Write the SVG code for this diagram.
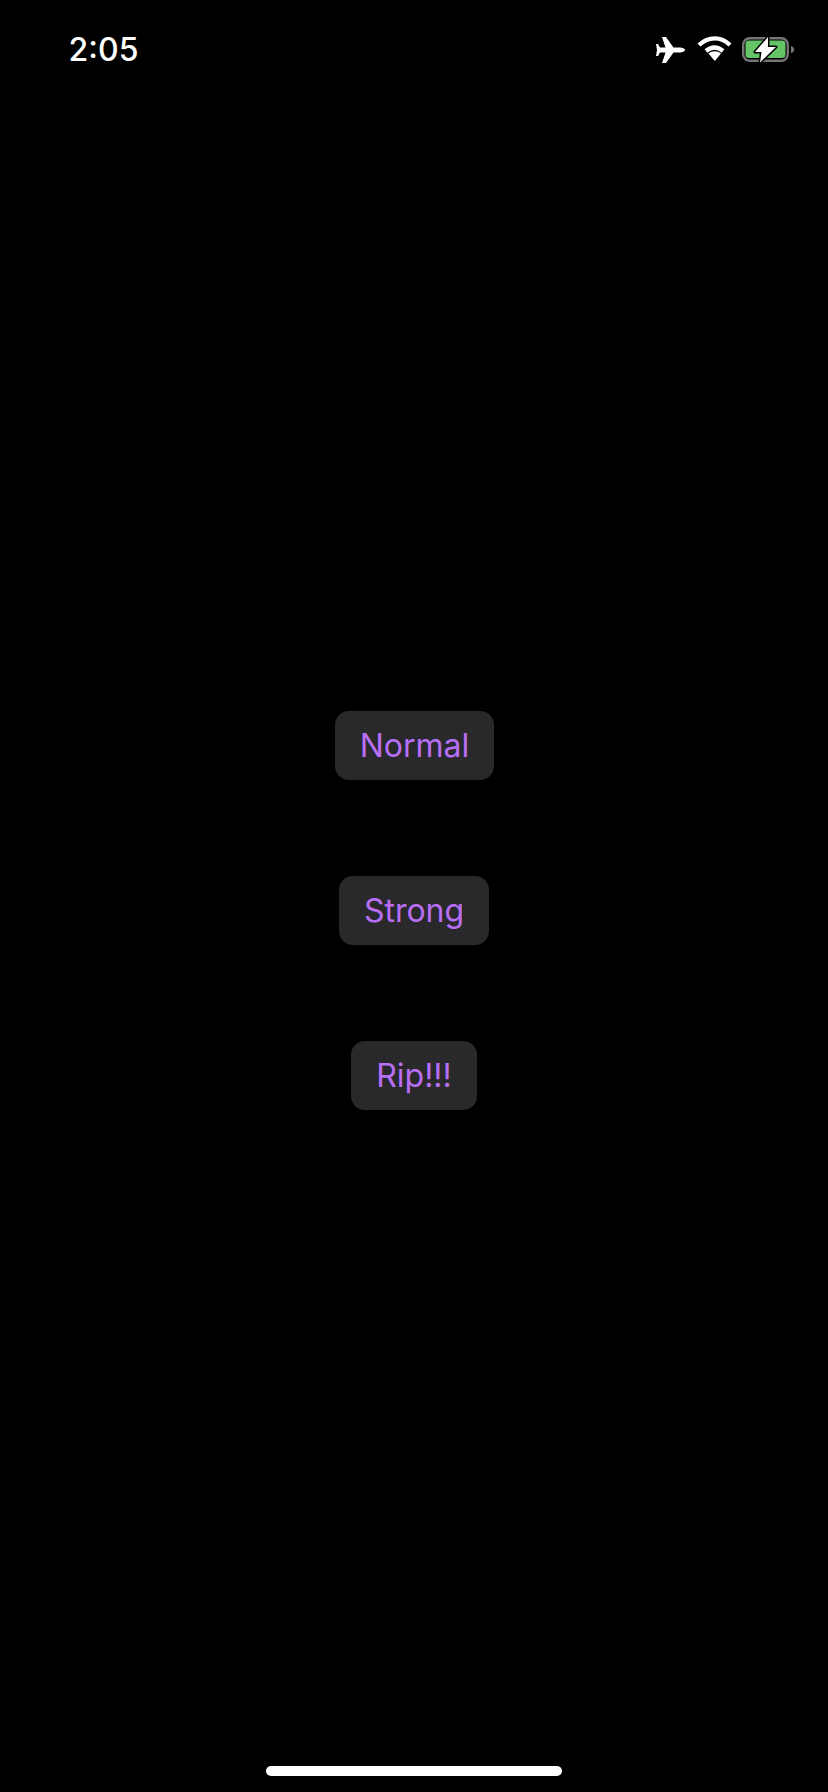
<svg xmlns="http://www.w3.org/2000/svg" width="828" height="1792" viewBox="0 0 828 1792">
<style>
.btn{fill:#29292b}
.lbl{font-family:Inter,"Noto Sans",sans-serif;font-size:32px;font-weight:400;fill:#b86ff5;text-anchor:middle}
</style>
<rect width="828" height="1792" fill="#000"/>
<g id="status-bar">
<text x="103.500" y="61" text-anchor="middle" font-family="Inter,sans-serif" font-weight="500" font-size="32" fill="#fff">2:05</text>
<path id="airplane" fill="#fff" d="M685 50c0 1.500-2.500 2.500-5 2.500h-6.500L666 63h-4l3.500-10.500h-5.500l-2 3.500h-2l1-6-1-6h2l2 3.500h5.500L662 37h4l7.500 10.500H680c2.500 0 5 1 5 2.500z"/>
<g id="wifi" fill="none" stroke="#fff" stroke-width="4.400">
<path d="M699 45c9.500-8.800 22-8.800 31 0"/>
<path d="M706 51c5.500-4.500 11.500-4.500 17 0"/>
<path fill="#fff" stroke="none" d="M708.500 53.500c4-3 8.500-3 12.500 0l-6.200 7.500z"/>
</g>
<g id="battery">
<rect x="743.200" y="38.200" width="44.600" height="22.600" rx="6.500" fill="none" stroke="#757575" stroke-width="2.400"/>
<rect x="745.500" y="40.500" width="40" height="17.500" rx="3.500" fill="#65c466"/>
<path d="M791 46c2.200.7 3.200 2.200 3.200 3.600s-1 2.900-3.200 3.600z" fill="#757575"/>
<path d="M768 37 755 52h6.500L760 62.500 776 47h-8z" fill="#fff" stroke="#000" stroke-width="3" paint-order="stroke" stroke-linejoin="round"/>
</g>
</g>
<g id="button-normal">
<rect class="btn" x="335" y="711" width="159" height="69" rx="14"/>
<text class="lbl" x="414.500" y="757">Normal</text>
</g>
<g id="button-strong">
<rect class="btn" x="339" y="876" width="150" height="69" rx="14"/>
<text class="lbl" x="414" y="922">Strong</text>
</g>
<g id="button-rip">
<rect class="btn" x="351" y="1041" width="126" height="69" rx="14"/>
<text class="lbl" x="414" y="1087">Rip!!!</text>
</g>
<rect id="home-indicator" x="266" y="1766" width="296" height="10" rx="5" fill="#fff"/>
</svg>
